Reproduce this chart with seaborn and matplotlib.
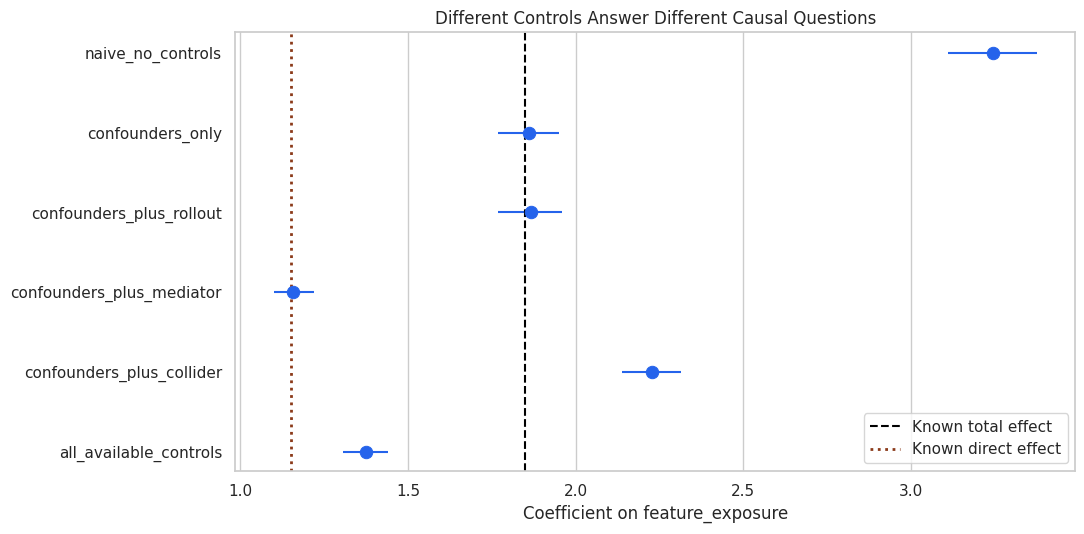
import matplotlib
matplotlib.use("Agg")
import matplotlib.pyplot as plt
import seaborn as sns
import pandas as pd

models = ["naive_no_controls", "confounders_only", "confounders_plus_rollout",
          "confounders_plus_mediator", "confounders_plus_collider", "all_available_controls"]
estimates = [3.245, 1.860, 1.866, 1.158, 2.227, 1.376]
ci_low = [3.110, 1.770, 1.770, 1.100, 2.137, 1.307]
ci_high = [3.376, 1.950, 1.958, 1.220, 2.313, 1.442]
total_effect = 1.85
direct_effect = 1.15

df = pd.DataFrame({"model": models, "coef": estimates, "lo": ci_low, "hi": ci_high})

sns.set_theme(style="whitegrid")
fig, ax = plt.subplots(figsize=(10.84, 5.34), dpi=100)
blue = "#2563eb"
ax.hlines(y=range(len(df)), xmin=df["lo"], xmax=df["hi"], color=blue, linewidth=1.5)
sns.scatterplot(data=df, x="coef", y="model", color=blue, s=80, ax=ax, zorder=3, edgecolor=blue)
ax.axvline(total_effect, color="black", linestyle="--", linewidth=1.5, label="Known total effect")
ax.axvline(direct_effect, color="#8b3a1a", linestyle=":", linewidth=2, label="Known direct effect")
ax.set_xlim(0.985, 3.49)
ax.set_ylim(5.24, -0.26)
ax.grid(axis="y", visible=False)
ax.set_xlabel("Coefficient on feature_exposure", fontsize=12)
ax.set_ylabel("")
ax.set_title("Different Controls Answer Different Causal Questions", fontsize=12)
ax.tick_params(labelsize=11)
ax.legend(loc="lower right", fontsize=11)
fig.subplots_adjust(left=0.217, right=0.992, top=0.940, bottom=0.118)
fig.savefig("out.png", dpi=100)
